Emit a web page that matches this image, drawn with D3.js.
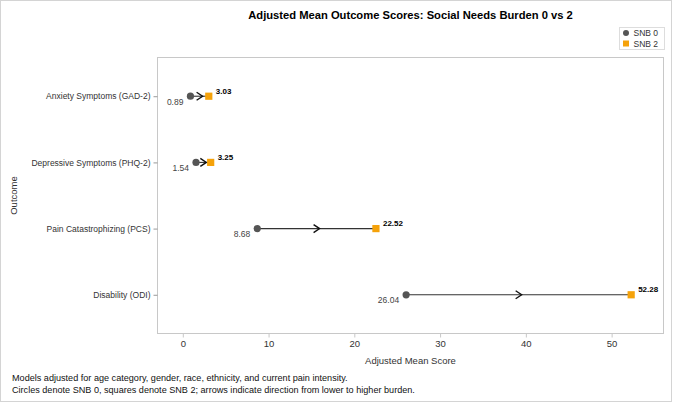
<!DOCTYPE html>
<html>
<head>
<meta charset="utf-8">
<script src="https://cdn.jsdelivr.net/npm/d3@7"></script>
<style>
  body { margin: 0; background: #fff; }
  text { font-family: "Liberation Sans", Arial, sans-serif; }
</style>
</head>
<body>
<div id="chart"></div>
<script>
var outcomes = ['Anxiety Symptoms (GAD-2)', 'Depressive Symptoms (PHQ-2)', 'Pain Catastrophizing (PCS)', 'Disability (ODI)'];
var snb0 = [0.89, 1.54, 8.68, 26.04];
var snb2 = [3.03, 3.25, 22.52, 52.28];
var x_ticks = [0, 10, 20, 30, 40, 50];
var footnotes = [
    'Models adjusted for age category, gender, race, ethnicity, and current pain intensity.',
    'Circles denote SNB 0, squares denote SNB 2; arrows indicate direction from lower to higher burden.'
];

var W = 673, H = 404;
var margin = {top: 57.5, right: 9.5, bottom: 70.5, left: 157.5};
var width = W - margin.left - margin.right;
var height = H - margin.top - margin.bottom;

var color_snb0 = '#555555';
var color_snb2 = '#F5A20A';
var frame_color = '#c8c8c8';

var rows = outcomes.map(function(d, i){
    return {'outcome': d, 'a': snb0[i], 'b': snb2[i]};
});

var svg_root = d3.select('#chart')
    .append('svg')
        .attr('width', W)
        .attr('height', H);

// outer border
svg_root.append('rect')
    .attr('x', 0.5).attr('y', 0.5)
    .attr('width', W - 2).attr('height', H - 3)
    .attr('fill', 'none')
    .attr('stroke', '#d4d4d4');

var svg = svg_root.append('g')
    .attr('transform', 'translate(' + margin.left + ',' + margin.top + ')');

var x_scale = d3.scaleLinear()
    .domain([-2.95, 56.05])
    .range([0, width]);

var y_scale = d3.scalePoint()
    .domain(outcomes)
    .range([0, height])
    .padding(0.585);

// frame
svg.append('rect')
    .attr('width', width)
    .attr('height', height)
    .attr('fill', 'none')
    .attr('stroke', frame_color);

var x_axis = d3.axisBottom(x_scale).tickValues(x_ticks).tickSize(4).tickPadding(3);
var y_axis = d3.axisLeft(y_scale).tickSize(4).tickPadding(3);

svg.append('g')
    .attr('class', 'x-axis')
    .attr('transform', 'translate(0,' + height + ')')
    .call(x_axis)
    .call(function(g){ g.select('.domain').remove(); })
    .call(function(g){
        g.selectAll('line').attr('stroke', frame_color);
        g.selectAll('text').attr('fill', '#333').style('font-size', '9.5px');
    });

svg.append('g')
    .attr('class', 'y-axis')
    .call(y_axis)
    .call(function(g){ g.select('.domain').remove(); })
    .call(function(g){
        g.selectAll('line').attr('stroke', '#999');
        g.selectAll('text').attr('fill', '#333').style('font-size', '8.5px');
    });

// connecting lines
svg.selectAll('.link')
    .data(rows)
    .enter()
    .append('line')
        .attr('class', 'link')
        .attr('x1', function(d){ return x_scale(d.a); })
        .attr('x2', function(d){ return x_scale(d.b); })
        .attr('y1', function(d){ return y_scale(d.outcome); })
        .attr('y2', function(d){ return y_scale(d.outcome); })
        .attr('stroke', '#333')
        .attr('stroke-width', 1.1);

// arrow chevrons at midpoint
svg.selectAll('.arrow')
    .data(rows)
    .enter()
    .append('path')
        .attr('class', 'arrow')
        .attr('d', function(d){
            var mx = x_scale((d.a + d.b) / 2) + 3;
            var y = y_scale(d.outcome);
            return 'M' + (mx - 6) + ',' + (y - 4) + 'L' + mx + ',' + y + 'L' + (mx - 6) + ',' + (y + 4);
        })
        .attr('fill', 'none')
        .attr('stroke', '#111')
        .attr('stroke-width', 1.4);

// SNB 0 circles
svg.selectAll('.dot')
    .data(rows)
    .enter()
    .append('circle')
        .attr('class', 'dot')
        .attr('cx', function(d){ return x_scale(d.a); })
        .attr('cy', function(d){ return y_scale(d.outcome); })
        .attr('r', 3.6)
        .attr('fill', color_snb0);

// SNB 2 squares
svg.selectAll('.sq')
    .data(rows)
    .enter()
    .append('rect')
        .attr('class', 'sq')
        .attr('x', function(d){ return x_scale(d.b) - 3.6; })
        .attr('y', function(d){ return y_scale(d.outcome) - 3.6; })
        .attr('width', 7.2)
        .attr('height', 7.2)
        .attr('fill', color_snb2);

// value labels
svg.selectAll('.lab0')
    .data(rows)
    .enter()
    .append('text')
        .attr('class', 'lab0')
        .attr('x', function(d){ return x_scale(d.a) - 7; })
        .attr('y', function(d){ return y_scale(d.outcome) + 8.5; })
        .attr('text-anchor', 'end')
        .attr('fill', '#444')
        .style('font-size', '8.5px')
        .text(function(d){ return d.a.toFixed(2); });

svg.selectAll('.lab2')
    .data(rows)
    .enter()
    .append('text')
        .attr('class', 'lab2')
        .attr('x', function(d){ return x_scale(d.b) + 7; })
        .attr('y', function(d){ return y_scale(d.outcome) - 2.5; })
        .attr('fill', '#000')
        .style('font-size', '8px')
        .style('font-weight', 'bold')
        .text(function(d){ return d.b.toFixed(2); });

// axis labels
svg.append('text')
    .attr('x', width / 2)
    .attr('y', height + 30)
    .attr('text-anchor', 'middle')
    .attr('fill', '#333')
    .style('font-size', '9.5px')
    .text('Adjusted Mean Score');

svg.append('text')
    .attr('transform', 'translate(' + (-margin.left + 17) + ',' + (height / 2) + ')rotate(-90)')
    .attr('text-anchor', 'middle')
    .attr('fill', '#333')
    .style('font-size', '9.5px')
    .text('Outcome');

// title
svg_root.append('text')
    .attr('x', margin.left + width / 2)
    .attr('y', 19)
    .attr('text-anchor', 'middle')
    .attr('fill', '#000')
    .style('font-size', '11.2px')
    .style('font-weight', 'bold')
    .text('Adjusted Mean Outcome Scores: Social Needs Burden 0 vs 2');

// legend
var legend = svg_root.append('g')
    .attr('transform', 'translate(619.5,27.5)');
legend.append('rect')
    .attr('width', 45).attr('height', 22)
    .attr('fill', '#fff')
    .attr('stroke', '#dddddd');
legend.append('circle')
    .attr('cx', 6.5).attr('cy', 5.5).attr('r', 3)
    .attr('fill', color_snb0);
legend.append('rect')
    .attr('x', 3.5).attr('y', 13).attr('width', 6).attr('height', 6)
    .attr('fill', color_snb2);
legend.append('text')
    .attr('x', 14).attr('y', 8.5)
    .attr('fill', '#333').style('font-size', '8.5px')
    .text('SNB 0');
legend.append('text')
    .attr('x', 14).attr('y', 19)
    .attr('fill', '#333').style('font-size', '8.5px')
    .text('SNB 2');

// footnotes
svg_root.selectAll('.foot')
    .data(footnotes)
    .enter()
    .append('text')
        .attr('class', 'foot')
        .attr('x', 12)
        .attr('y', function(d, i){ return 381 + i * 12; })
        .attr('fill', '#111')
        .style('font-size', '9.1px')
        .text(function(d){ return d; });
</script>
</body>
</html>
